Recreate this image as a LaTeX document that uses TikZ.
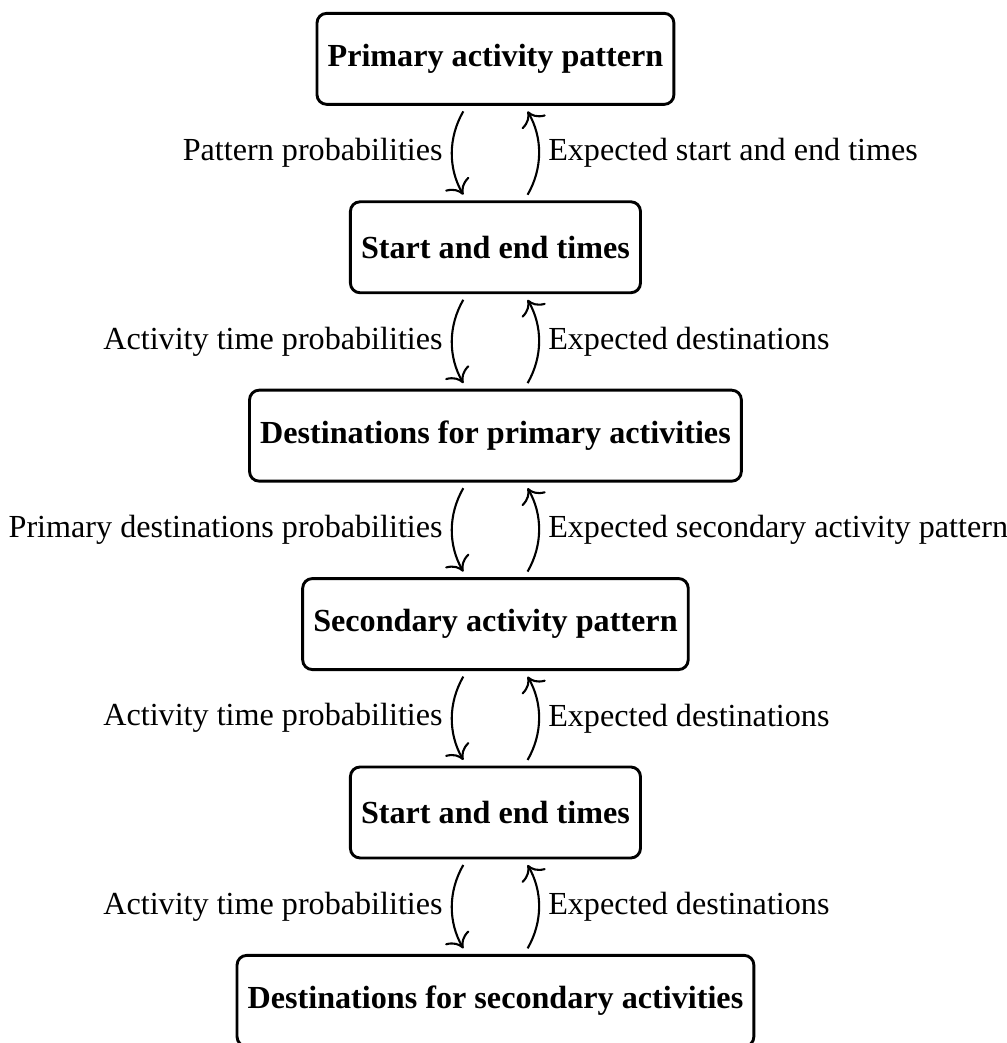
\documentclass[tikz,border=0pt]{standalone}
\usepackage{fontspec}
\setmainfont{Liberation Serif}
\usetikzlibrary{positioning,arrows.meta}
\tikzset{
    box/.style ={
        shape=rectangle,
        rounded corners=3pt,
        draw=black,
        line width=0.9pt,
        font=\bfseries,
        minimum height=28.3pt,
        inner xsep=3.3pt
    },
    flow/.style ={
        -{To[scale=1.35]},
        line width=0.65pt,
        shorten >=2pt,
        shorten <=2pt
    },
    lbl/.style ={
        inner xsep=2.8pt
    }
}

\begin{document}
\begin{tikzpicture}
    \useasboundingbox (-154.1pt,18.3pt) rectangle ++(313.2pt,-324.4pt);
    \node[box] (p1) at (0,0) {Primary activity pattern};
    \node[box,below=29.4pt of p1] (t1) {Start and end times};
    \node[box,below=29.4pt of t1] (d1) {Destinations for primary activities};
    \node[box,below=29.4pt of d1] (p2) {Secondary activity pattern};
    \node[box,below=29.4pt of p2] (t2) {Start and end times};
    \node[box,below=29.4pt of t2] (d2) {Destinations for secondary activities};
    % downward: probabilities, upward: expectations
    \draw[flow] ([xshift=-9pt]p1.south) to[bend right=30] node[lbl,left] (lp1) {Pattern probabilities} ([xshift=-9pt]t1.north);
    \draw[flow] ([xshift=9pt]t1.north) to[bend right=30] node[lbl,right] (rp1) {Expected start and end times} ([xshift=9pt]p1.south);
    \draw[flow] ([xshift=-9pt]t1.south) to[bend right=30] node[lbl,left] (lt1) {Activity time probabilities} ([xshift=-9pt]d1.north);
    \draw[flow] ([xshift=9pt]d1.north) to[bend right=30] node[lbl,right] (rt1) {Expected destinations} ([xshift=9pt]t1.south);
    \draw[flow] ([xshift=-9pt]d1.south) to[bend right=30] node[lbl,left] (ld1) {Primary destinations probabilities} ([xshift=-9pt]p2.north);
    \draw[flow] ([xshift=9pt]p2.north) to[bend right=30] node[lbl,right] (rd1) {Expected secondary activity pattern} ([xshift=9pt]d1.south);
    \draw[flow] ([xshift=-9pt]p2.south) to[bend right=30] node[lbl,left] (lp2) {Activity time probabilities} ([xshift=-9pt]t2.north);
    \draw[flow] ([xshift=9pt]t2.north) to[bend right=30] node[lbl,right] (rp2) {Expected destinations} ([xshift=9pt]p2.south);
    \draw[flow] ([xshift=-9pt]t2.south) to[bend right=30] node[lbl,left] (lt2) {Activity time probabilities} ([xshift=-9pt]d2.north);
    \draw[flow] ([xshift=9pt]d2.north) to[bend right=30] node[lbl,right] (rt2) {Expected destinations} ([xshift=9pt]t2.south);
\end{tikzpicture}
\end{document}
